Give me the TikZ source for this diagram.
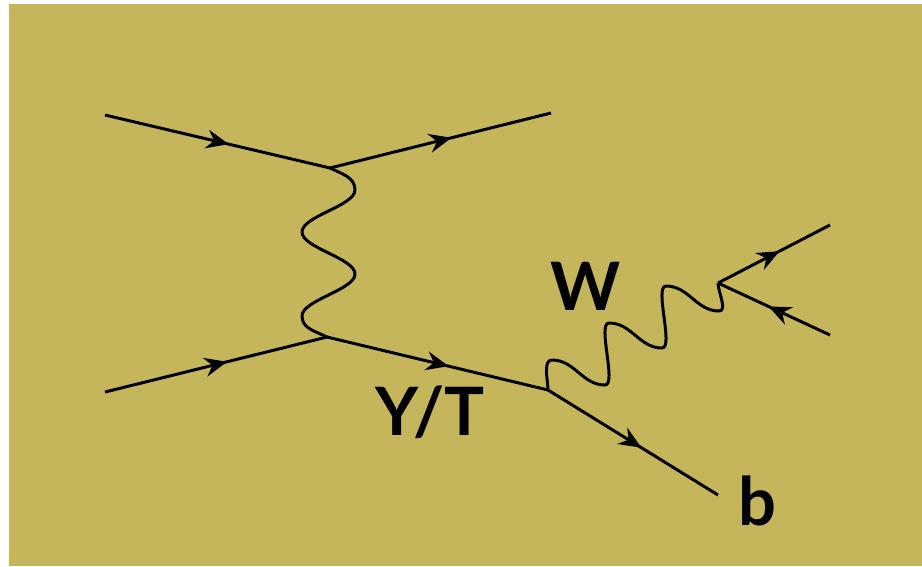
\documentclass[tikz,border=0pt]{standalone}
\usepackage{fontspec}
\setsansfont{Lato}
\usetikzlibrary{arrows.meta,decorations.markings}
\definecolor{khaki}{RGB}{197,182,92}
\begin{document}
\begin{tikzpicture}[x=0.02cm,y=-0.02cm,
  fermion/.style={line width=1.7pt,postaction={decorate},
    decoration={markings,mark=at position .55 with {\arrow{Stealth[length=4.5mm,width=3.8mm,inset=1.5mm]}}}},
  boson/.style={line width=1.7pt,line join=round},
  lbl/.style={font=\sffamily\bfseries\fontsize{38}{38}\selectfont,inner sep=0pt,anchor=base west}]
  \useasboundingbox (0,0) rectangle (922,566);
  \fill[khaki] (9,4) rectangle (922,566);
  % vertices and free ends
  \coordinate (v1) at (330,168);
  \coordinate (v2) at (327,337);
  \coordinate (v3) at (548,390);
  \coordinate (v4) at (718,283);
  \coordinate (i1) at (105,115);
  \coordinate (o1) at (551,113);
  \coordinate (i2) at (105,392);
  \coordinate (ob) at (718,495);
  \coordinate (of) at (830,225);
  \coordinate (ia) at (830,335);
  % fermion lines
  \draw[fermion] (i1)--(v1);
  \draw[fermion] (v1)--(o1);
  \draw[fermion] (i2)--(v2);
  \draw[fermion] (v2)--(v3);
  \draw[fermion] (v3)--(ob);
  \draw[fermion] (v4)--(of);
  \draw[fermion] (ia)--(v4);
  % exchanged photon
  \draw[boson] (v1) to[out=-27,in=90] ++(25,22)
    \foreach \dx in {-53,53,-53} {to[out=-90,in=90,looseness=.6] ++(\dx,42)}
    to[out=-90,in=153] (v2);
  % W line
  \draw[boson] (v3) to[out=90,in=180,looseness=.8] ++(4,-30)
    \foreach \k in {1,2} {to[out=0,in=180] ++(53,25) to[out=0,in=180,looseness=.5] ++(4,-62)}
    to[out=0,in=180] ++(53,25) to[out=0,in=-90,looseness=.8] (v4);
  % labels
  \node[lbl] (yt) at (375,435) {Y/T};
  \node[lbl] (w) at (550,310) {W};
  \node[lbl] (b) at (738,525) {b};
\end{tikzpicture}
\end{document}
